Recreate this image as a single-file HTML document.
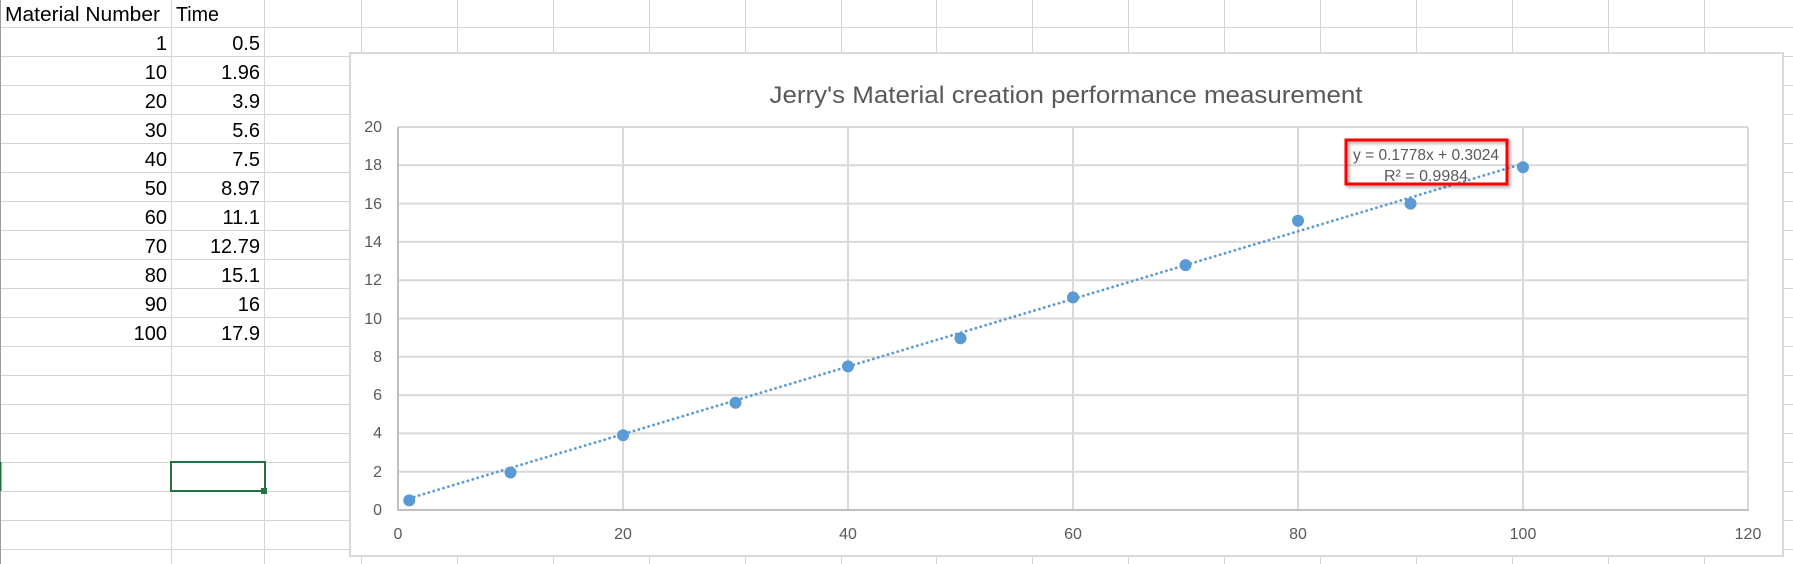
<!DOCTYPE html>
<html><head><meta charset="utf-8"><style>
body{margin:0;width:1793px;height:564px;overflow:hidden;background:#fff;font-family:"Liberation Sans",sans-serif}
</style></head><body>
<svg width="1793" height="564" xmlns="http://www.w3.org/2000/svg" style="position:absolute;left:0;top:0">
<defs><filter id="sh" x="-10%" y="-10%" width="130%" height="140%"><feDropShadow dx="2" dy="2" stdDeviation="1.5" flood-color="#000" flood-opacity="0.35"/></filter></defs>
<g stroke="#d4d4d4" stroke-width="1">
<line x1="0" y1="27.5" x2="1793" y2="27.5"/><line x1="0" y1="56.5" x2="1793" y2="56.5"/><line x1="0" y1="85.5" x2="1793" y2="85.5"/><line x1="0" y1="114.5" x2="1793" y2="114.5"/><line x1="0" y1="143.5" x2="1793" y2="143.5"/><line x1="0" y1="172.5" x2="1793" y2="172.5"/><line x1="0" y1="201.5" x2="1793" y2="201.5"/><line x1="0" y1="230.5" x2="1793" y2="230.5"/><line x1="0" y1="259.5" x2="1793" y2="259.5"/><line x1="0" y1="288.5" x2="1793" y2="288.5"/><line x1="0" y1="317.5" x2="1793" y2="317.5"/><line x1="0" y1="346.5" x2="1793" y2="346.5"/><line x1="0" y1="375.5" x2="1793" y2="375.5"/><line x1="0" y1="404.5" x2="1793" y2="404.5"/><line x1="0" y1="433.5" x2="1793" y2="433.5"/><line x1="0" y1="462.5" x2="1793" y2="462.5"/><line x1="0" y1="491.5" x2="1793" y2="491.5"/><line x1="0" y1="520.5" x2="1793" y2="520.5"/><line x1="0" y1="549.5" x2="1793" y2="549.5"/>
<line x1="171.5" y1="0" x2="171.5" y2="564"/><line x1="264.5" y1="0" x2="264.5" y2="564"/><line x1="361.5" y1="0" x2="361.5" y2="564"/>
<line x1="457.5" y1="0" x2="457.5" y2="564"/><line x1="553.5" y1="0" x2="553.5" y2="564"/><line x1="649.5" y1="0" x2="649.5" y2="564"/><line x1="745.5" y1="0" x2="745.5" y2="564"/><line x1="841.5" y1="0" x2="841.5" y2="564"/><line x1="936.5" y1="0" x2="936.5" y2="564"/><line x1="1032.5" y1="0" x2="1032.5" y2="564"/><line x1="1128.5" y1="0" x2="1128.5" y2="564"/><line x1="1224.5" y1="0" x2="1224.5" y2="564"/><line x1="1320.5" y1="0" x2="1320.5" y2="564"/><line x1="1416.5" y1="0" x2="1416.5" y2="564"/><line x1="1512.5" y1="0" x2="1512.5" y2="564"/><line x1="1608.5" y1="0" x2="1608.5" y2="564"/><line x1="1704.5" y1="0" x2="1704.5" y2="564"/>
</g>
<line x1="0.5" y1="0" x2="0.5" y2="564" stroke="#9a9a9a"/>
<line x1="0.5" y1="462" x2="0.5" y2="491" stroke="#217346" stroke-width="2"/>
<rect x="171" y="462" width="94" height="29" fill="none" stroke="#217346" stroke-width="2"/>
<rect x="261" y="488" width="6" height="6" fill="#217346"/>
<g font-size="20" fill="#000" font-family="Liberation Sans,sans-serif">
<text x="5" y="21" textLength="155" lengthAdjust="spacingAndGlyphs">Material Number</text><text x="176" y="21" textLength="43" lengthAdjust="spacingAndGlyphs">Time</text>
<g text-anchor="end">
<text x="167" y="50">1</text><text x="260" y="50">0.5</text>
<text x="167" y="79">10</text><text x="260" y="79">1.96</text>
<text x="167" y="108">20</text><text x="260" y="108">3.9</text>
<text x="167" y="137">30</text><text x="260" y="137">5.6</text>
<text x="167" y="166">40</text><text x="260" y="166">7.5</text>
<text x="167" y="195">50</text><text x="260" y="195">8.97</text>
<text x="167" y="224">60</text><text x="260" y="224">11.1</text>
<text x="167" y="253">70</text><text x="260" y="253">12.79</text>
<text x="167" y="282">80</text><text x="260" y="282">15.1</text>
<text x="167" y="311">90</text><text x="260" y="311">16</text>
<text x="167" y="340">100</text><text x="260" y="340">17.9</text>
</g></g>
<rect x="350" y="53" width="1433" height="503" fill="#fff" stroke="#d9d9d9" stroke-width="2"/>
<text x="1066" y="103" text-anchor="middle" font-size="24" fill="#595959" textLength="593" lengthAdjust="spacingAndGlyphs">Jerry's Material creation performance measurement</text>
<g stroke="#d9d9d9" stroke-width="2">
<line x1="398" y1="127" x2="1748" y2="127"/><line x1="398" y1="165.3" x2="1748" y2="165.3"/><line x1="398" y1="203.6" x2="1748" y2="203.6"/><line x1="398" y1="241.9" x2="1748" y2="241.9"/><line x1="398" y1="280.2" x2="1748" y2="280.2"/><line x1="398" y1="318.5" x2="1748" y2="318.5"/><line x1="398" y1="356.8" x2="1748" y2="356.8"/><line x1="398" y1="395.1" x2="1748" y2="395.1"/><line x1="398" y1="433.4" x2="1748" y2="433.4"/><line x1="398" y1="471.7" x2="1748" y2="471.7"/>
<line x1="623" y1="127" x2="623" y2="510"/><line x1="848" y1="127" x2="848" y2="510"/><line x1="1073" y1="127" x2="1073" y2="510"/><line x1="1298" y1="127" x2="1298" y2="510"/><line x1="1523" y1="127" x2="1523" y2="510"/><line x1="1748" y1="127" x2="1748" y2="510"/>
</g>
<g stroke="#bfbfbf" stroke-width="2"><line x1="398" y1="127" x2="398" y2="510"/><line x1="397" y1="510" x2="1749" y2="510"/></g>
<g font-size="16" fill="#595959" text-anchor="end">
<text x="382" y="132">20</text><text x="382" y="170">18</text><text x="382" y="209">16</text><text x="382" y="247">14</text><text x="382" y="285">12</text><text x="382" y="324">10</text><text x="382" y="362">8</text><text x="382" y="400">6</text><text x="382" y="438">4</text><text x="382" y="477">2</text><text x="382" y="515">0</text>
</g>
<g font-size="16" fill="#595959" text-anchor="middle">
<text x="398" y="539">0</text><text x="623" y="539">20</text><text x="848" y="539">40</text><text x="1073" y="539">60</text><text x="1298" y="539">80</text><text x="1523" y="539">100</text><text x="1748" y="539">120</text>
</g>
<line x1="409.25" y1="498.4" x2="1523" y2="163.7" stroke="#5b9bd5" stroke-width="2.8" stroke-dasharray="0.1 5" stroke-linecap="round"/>
<g fill="#5b9bd5">
<circle cx="409.25" cy="500.4" r="6"/><circle cx="510.5" cy="472.5" r="6"/><circle cx="623" cy="435.3" r="6"/><circle cx="735.5" cy="402.8" r="6"/><circle cx="848" cy="366.4" r="6"/><circle cx="960.5" cy="338.2" r="6"/><circle cx="1073" cy="297.4" r="6"/><circle cx="1185.5" cy="265.1" r="6"/><circle cx="1298" cy="220.8" r="6"/><circle cx="1410.5" cy="203.6" r="6"/><circle cx="1523" cy="167.2" r="6"/>
</g>
<g font-size="16" fill="#595959" text-anchor="middle">
<text x="1426" y="160" textLength="146" lengthAdjust="spacingAndGlyphs">y = 0.1778x + 0.3024</text><text x="1426" y="181">R² = 0.9984</text>
</g>
<rect x="1346" y="140" width="161" height="44" fill="none" stroke="#ff0000" stroke-width="3" filter="url(#sh)"/>
</svg>
</body></html>
